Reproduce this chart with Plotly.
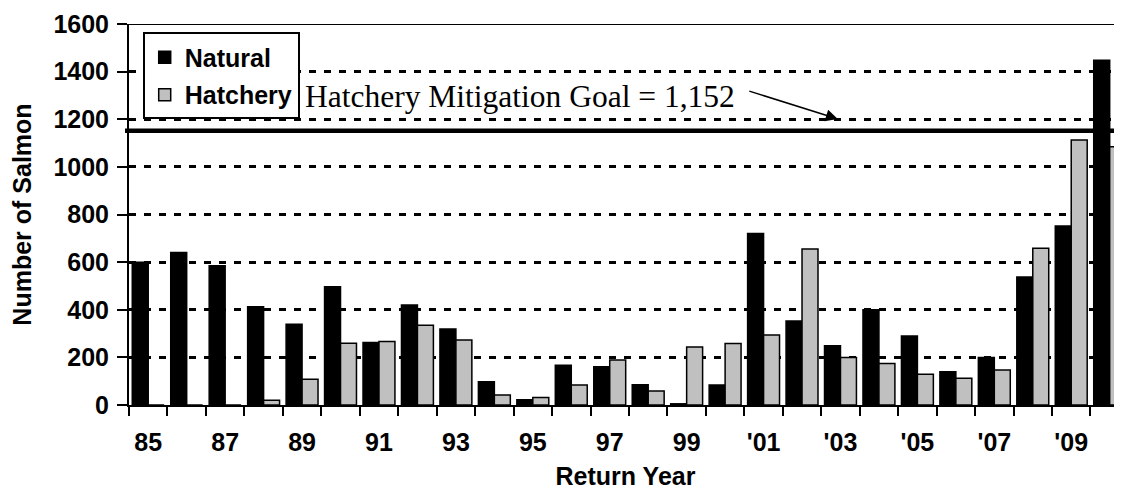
import plotly.graph_objects as go

years = list(range(1985, 2011))
natural = [600, 640, 585, 413, 339, 497, 262, 420, 319, 98, 22, 167, 161, 85, 5,
           84, 720, 353, 249, 400, 290, 140, 200, 538, 752, 1448]
hatchery = [0, 0, 0, 20, 108, 259, 267, 335, 273, 42, 32, 84, 189, 59, 244,
            258, 294, 655, 199, 174, 129, 112, 147, 658, 1113, 1084]
label_years = [1985, 1987, 1989, 1991, 1993, 1995, 1997, 1999, 2001, 2003, 2005, 2007, 2009]
label_text = ["85", "87", "89", "91", "93", "95", "97", "99", "'01", "'03", "'05", "'07", "'09"]
goal = 1152

SANS = "Arial, Liberation Sans, sans-serif"
SERIF = "Times New Roman, Liberation Serif, serif"

fig = go.Figure()
fig.add_trace(go.Bar(x=years, y=natural, name="Natural", legendgroup="n",
                     marker=dict(color="black", line=dict(color="black", width=1.5))))
fig.add_trace(go.Bar(x=years, y=hatchery, name="Hatchery", legendgroup="h",
                     marker=dict(color="#C0C0C0", line=dict(color="black", width=1.5))))

# page body has an 8px default margin, so the figure is sized to fit the window
fig.update_layout(
    width=1114, height=482,
    margin=dict(l=121, r=0, t=16, b=85, autoexpand=False),
    plot_bgcolor="white", paper_bgcolor="white",
    barmode="group", bargap=0.17, bargroupgap=0,
    font=dict(family=SANS, size=25, color="black"),
    legend=dict(x=0.0138, y=0.978, xanchor="left", yanchor="top",
                bgcolor="white", bordercolor="black", borderwidth=2,
                font=dict(family=SANS, size=25, color="black", weight="bold"),
                tracegroupgap=2, traceorder="grouped"),
    xaxis=dict(range=[1984.5, 2010.32], tickvals=label_years, ticktext=label_text,
               ticks="", ticklabelstandoff=14, showgrid=False, zeroline=False,
               showline=True, linecolor="black", linewidth=2, automargin=False,
               tickfont=dict(family=SANS, size=25, color="black", weight="bold"),
               minor=dict(tickmode="linear", tick0=1984.5, dtick=1, ticks="outside",
                          ticklen=9, tickwidth=2, tickcolor="black", showgrid=False),
               title=dict(text="Return Year", standoff=22,
                          font=dict(family=SANS, size=25, color="black", weight="bold"))),
    yaxis=dict(range=[0, 1600], tickmode="linear", tick0=0, dtick=200,
               ticks="outside", ticklen=10, tickwidth=2, tickcolor="black",
               ticklabelstandoff=3, automargin=False,
               showgrid=True, gridcolor="black", gridwidth=2.5, griddash="7px,8px",
               zeroline=False, showline=True, linecolor="black", linewidth=2,
               tickfont=dict(family=SANS, size=25, color="black", weight="bold"),
               title=dict(text="Number of Salmon", standoff=17,
                          font=dict(family=SANS, size=25, color="black", weight="bold"))),
)

# top border at 1600
fig.add_shape(type="line", xref="paper", yref="y", x0=0, x1=1, y0=1600, y1=1600,
              line=dict(color="black", width=2), layer="above")
# mitigation goal line
fig.add_shape(type="line", xref="paper", yref="y", x0=-0.004, x1=1, y0=goal, y1=goal,
              line=dict(color="black", width=4.5), layer="above")

fig.add_annotation(text="Hatchery Mitigation Goal = 1,152", xref="paper", yref="y",
                   x=0.175, y=1294, xanchor="left", yanchor="middle", showarrow=False,
                   font=dict(family=SERIF, size=31.5, color="black"))
fig.add_annotation(text="", x=2002.93, y=1201, xref="x", yref="y",
                   ax=2000.59, ay=1320, axref="x", ayref="y",
                   showarrow=True, arrowhead=2, arrowsize=1.6, arrowwidth=1.5,
                   arrowcolor="black", standoff=0, startstandoff=0)

fig.write_html("out.html")
